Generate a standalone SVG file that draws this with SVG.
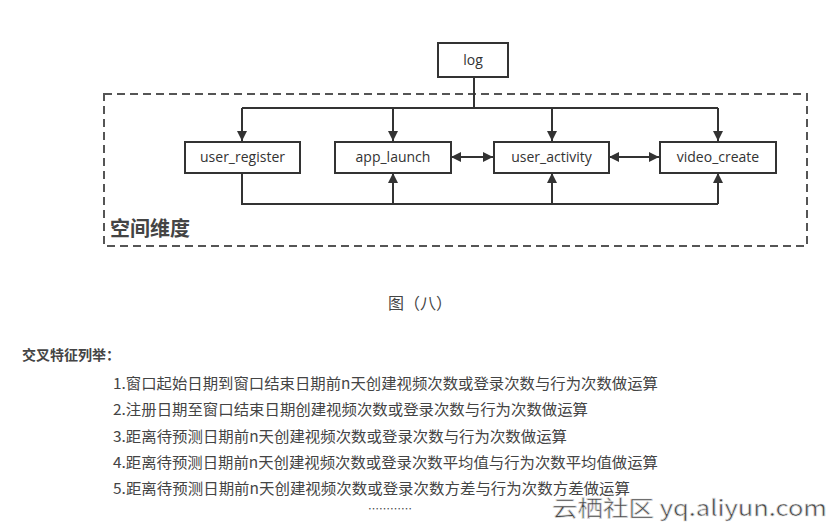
<svg xmlns="http://www.w3.org/2000/svg" width="838" height="526" viewBox="0 0 838 526">
<style>
.box{fill:#fff;stroke:#333;stroke-width:2}
.lbl{font-family:"Open Sans","Liberation Sans",sans-serif;font-size:14px;fill:#333;text-anchor:middle}
.ln{fill:none;stroke:#333;stroke-width:2}
.cn{font-family:"Noto Sans CJK SC","Liberation Sans",sans-serif;fill:#444}
</style>
<defs>
<marker id="ah" viewBox="0 0 10 10" refX="10" refY="5" markerWidth="5" markerHeight="5" orient="auto-start-reverse" markerUnits="strokeWidth">
<path d="M0,0 L10,5 L0,10 Z" fill="#333"/>
</marker>
</defs>
<rect width="838" height="526" fill="#fff"/>
<rect x="104" y="94" width="703" height="152" fill="none" stroke="#555" stroke-width="2" stroke-dasharray="8,5"/>
<text x="110" y="236" class="cn" font-size="20" font-weight="bold" fill="#222">空间维度</text>
<g id="connectors">
<path class="ln" d="M474,77 V108"/>
<path class="ln" d="M242,108 H718"/>
<path class="ln" d="M242,108 V141" marker-end="url(#ah)"/>
<path class="ln" d="M393,108 V141" marker-end="url(#ah)"/>
<path class="ln" d="M552,108 V141" marker-end="url(#ah)"/>
<path class="ln" d="M718,108 V141" marker-end="url(#ah)"/>
<path class="ln" d="M242,173 V204 H718"/>
<path class="ln" d="M393,204 V173" marker-end="url(#ah)"/>
<path class="ln" d="M552,204 V173" marker-end="url(#ah)"/>
<path class="ln" d="M718,204 V173" marker-end="url(#ah)"/>
<path class="ln" d="M451,157 H493" marker-start="url(#ah)" marker-end="url(#ah)"/>
<path class="ln" d="M609,157 H659" marker-start="url(#ah)" marker-end="url(#ah)"/>
</g>
<g id="log"><rect class="box" x="438" y="43" width="70" height="34"/><text class="lbl" x="473" y="65">log</text></g>
<g id="user_register"><rect class="box" x="185" y="142" width="115" height="31"/><text class="lbl" x="242.5" y="162">user_register</text></g>
<g id="app_launch"><rect class="box" x="335" y="142" width="116" height="31"/><text class="lbl" x="393" y="162">app_launch</text></g>
<g id="user_activity"><rect class="box" x="494" y="142" width="115" height="31"/><text class="lbl" x="551.5" y="162">user_activity</text></g>
<g id="video_create"><rect class="box" x="660" y="142" width="116" height="31"/><text class="lbl" x="718" y="162">video_create</text></g>
<text x="420" y="309" class="cn" font-size="16" fill="#777" text-anchor="middle">图（八）</text>
<text x="22" y="360" class="cn" font-size="14" font-weight="bold" fill="#222">交叉特征列举：</text>
<text x="113" y="389" class="cn" font-size="15" textLength="545" lengthAdjust="spacingAndGlyphs">1.窗口起始日期到窗口结束日期前n天创建视频次数或登录次数与行为次数做运算</text>
<text x="113" y="415" class="cn" font-size="15" textLength="475" lengthAdjust="spacingAndGlyphs">2.注册日期至窗口结束日期创建视频次数或登录次数与行为次数做运算</text>
<text x="113" y="442" class="cn" font-size="15" textLength="454" lengthAdjust="spacingAndGlyphs">3.距离待预测日期前n天创建视频次数或登录次数与行为次数做运算</text>
<text x="113" y="468" class="cn" font-size="15" textLength="545" lengthAdjust="spacingAndGlyphs">4.距离待预测日期前n天创建视频次数或登录次数平均值与行为次数平均值做运算</text>
<text x="113" y="494" class="cn" font-size="15" textLength="517" lengthAdjust="spacingAndGlyphs">5.距离待预测日期前n天创建视频次数或登录次数方差与行为次数方差做运算</text>
<text x="368" y="513" class="cn" font-size="11" fill="#666">…………</text>
<text x="552" y="516" class="cn" font-size="22" fill="#f5f5f5" stroke="#dddddd" stroke-width="0.7" textLength="275" lengthAdjust="spacingAndGlyphs">云栖社区 yq.aliyun.com</text>
</svg>
